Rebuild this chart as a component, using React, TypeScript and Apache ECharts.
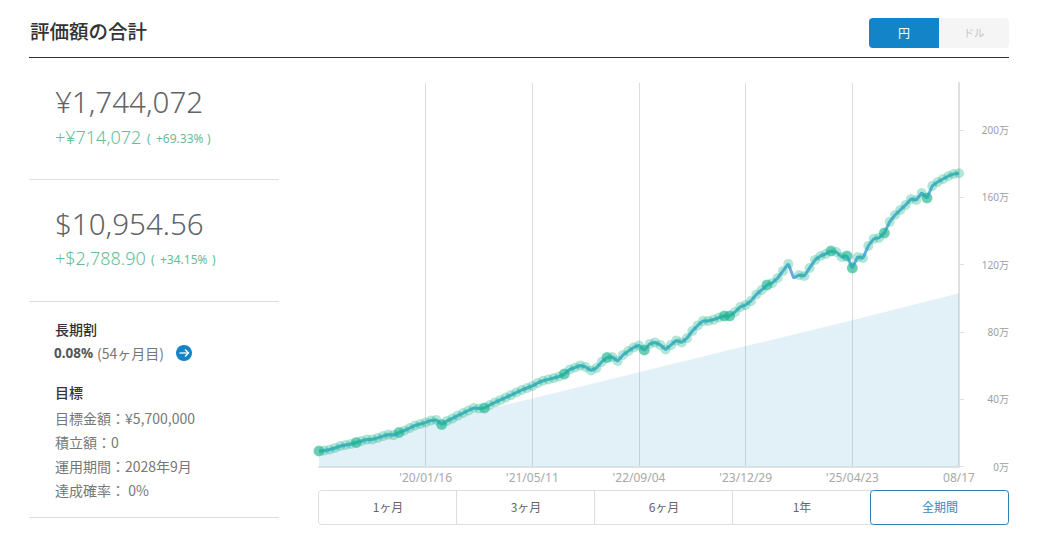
import React, { useEffect, useRef } from "react";
import * as echarts from "echarts";

// Tick labels on the date axis, one every 20 points (the first tick has no label in the picture)
const dateTicks = ["", "'20/01/16", "'21/05/11", "'22/09/04", "'23/12/29", "'25/04/23", "08/17"];
const yTicks = [0, 40, 80, 120, 160, 200];

// Valuation (unit: 万円)
const valuation = [
  9.2, 9.5, 10.1, 11.0, 12.2, 12.8, 13.4, 14.3, 15.2, 16.1,
  16.1, 17.0, 18.1, 19.0, 18.7, 20.2, 21.4, 22.9, 24.4, 25.3,
  26.2, 27.4, 27.7, 25.0, 27.1, 28.6, 30.3, 31.8, 33.3, 34.8,
  34.5, 34.8, 36.6, 38.1, 39.6, 41.0, 42.5, 44.0, 45.5, 46.7,
  47.9, 49.7, 51.0, 51.8, 52.6, 53.5, 55.0, 57.7, 58.9, 60.1,
  59.2, 57.1, 58.6, 62.2, 64.8, 65.1, 62.8, 66.3, 68.7, 70.8,
  72.0, 69.3, 72.9, 73.8, 72.3, 69.6, 72.3, 75.0, 73.8, 76.4,
  80.6, 83.9, 86.6, 86.6, 87.4, 88.6, 89.5, 89.5, 91.9, 94.9,
  96.1, 98.5, 102.3, 105.0, 108.0, 109.2, 112.1, 116.3, 120.5, 112.1,
  113.9, 113.3, 118.1, 122.8, 125.2, 126.4, 128.2, 127.6, 124.6, 125.2,
  118.1, 124.6, 124.0, 131.2, 135.4, 136.0, 138.9, 145.5, 149.6, 152.6,
  155.6, 159.1, 158.5, 162.7, 159.7, 166.9, 169.2, 171.0, 172.8, 174.0,
  174.4,
];

// Amount paid in (unit: 万円), read at each date tick; the library joins these readings
const paidInAtTicks = [9.5, 25, 40.5, 56, 71.6, 87, 103];

// Points where the line dips without a marker, and points with a strong marker
const unmarkedPoints = [89];
const strongPoints = [0, 7, 15, 23, 31, 46, 54, 61, 76, 77, 84, 96, 99, 100, 106, 114];

const rangeLabels = ["1ヶ月", "3ヶ月", "6ヶ月", "1年", "全期間"];

const FONT = '"Noto Sans", "Noto Sans CJK JP", sans-serif';
const JP = '"Noto Sans CJK JP", sans-serif';

function label(x: number, y: number, text: string, size: number, fill: string, opts: any = {}) {
  return {
    type: "text",
    x,
    y,
    silent: true,
    style: {
      text,
      fill,
      font: `${opts.weight || 400} ${size}px ${opts.family || FONT}`,
      textAlign: opts.align || "left",
      textVerticalAlign: "middle",
    },
  };
}

function hline(x1: number, x2: number, y: number, stroke: string, lineWidth = 1) {
  return { type: "line", silent: true, shape: { x1, y1: y, x2, y2: y }, style: { stroke, lineWidth } };
}

function vline(x: number, y1: number, y2: number, stroke: string) {
  return { type: "line", silent: true, shape: { x1: x, y1, x2: x, y2 }, style: { stroke, lineWidth: 1 } };
}

function buildGraphic() {
  const grey = "#5f6468";
  const green = "#67bd98";
  const body = "#777777";
  const blue = "#1484c8";
  const rangeCenters = [388, 526, 664, 802, 940];
  return [
    label(30, 30, "評価額の合計", 19.5, "#333333", { family: JP, weight: 500 }),
    hline(29, 1009, 57.5, "#333333"),

    { type: "rect", silent: true, shape: { x: 869, y: 18, width: 70, height: 30, r: [4, 0, 0, 4] }, style: { fill: blue } },
    { type: "rect", silent: true, shape: { x: 939, y: 18, width: 70, height: 30, r: [0, 4, 4, 0] }, style: { fill: "#f5f5f5" } },
    label(904, 32, "円", 12, "#ffffff", { family: JP, align: "center" }),
    label(974, 32, "ドル", 10.5, "#c4c4c4", { family: JP, align: "center" }),

    label(55, 101, "¥1,744,072", 29.5, grey, { weight: 300 }),
    label(55, 137, "+¥714,072", 18, green, { weight: 300 }),
    label(147, 138, "(", 12, green),
    label(156, 138, "+69.33%", 12, green),
    label(207, 138, ")", 12, green),
    hline(29, 279, 179.5, "#dedede"),

    label(55, 223, "$10,954.56", 29.5, grey, { weight: 300 }),
    label(55, 258, "+$2,788.90", 18, green, { weight: 300 }),
    label(151, 259, "(", 12, green),
    label(160, 259, "+34.15%", 12, green),
    label(212, 259, ")", 12, green),
    hline(29, 279, 301.5, "#dedede"),

    label(55, 328.5, "長期割", 14, "#333333", { family: JP, weight: 500 }),
    label(54, 352.5, "0.08%", 13.5, "#555555", { weight: 700 }),
    label(97, 352.5, "(54ヶ月目)", 14, body, { family: JP }),
    { type: "circle", silent: true, shape: { cx: 184, cy: 353, r: 8 }, style: { fill: blue } },
    { type: "polyline", silent: true, shape: { points: [[179.5, 353], [188.5, 353]] }, style: { stroke: "#fff", lineWidth: 1.3, fill: "none" } },
    { type: "polyline", silent: true, shape: { points: [[185, 349.5], [188.5, 353], [185, 356.5]] }, style: { stroke: "#fff", lineWidth: 1.3, fill: "none" } },

    label(55, 391.5, "目標", 14, "#333333", { family: JP, weight: 500 }),
    label(55, 417.5, "目標金額：¥5,700,000", 14, body, { family: JP }),
    label(55, 441.5, "積立額：0", 14, body, { family: JP }),
    label(55, 465.5, "運用期間：2028年9月", 14, body, { family: JP }),
    label(55, 489.5, "達成確率： 0%", 14, body, { family: JP }),
    hline(29, 279, 517.5, "#dedede"),

    { type: "rect", silent: true, shape: { x: 318.5, y: 490.5, width: 690, height: 34, r: 3 }, style: { fill: "none", stroke: "#dddddd", lineWidth: 1 } },
    vline(456.5, 490.5, 524.5, "#dddddd"),
    vline(594.5, 490.5, 524.5, "#dddddd"),
    vline(732.5, 490.5, 524.5, "#dddddd"),
    { type: "rect", silent: true, shape: { x: 870.5, y: 490.5, width: 138, height: 34, r: 3 }, style: { fill: "#fff", stroke: "#2f80b2", lineWidth: 1 } },
    ...rangeLabels.map((t, i) =>
      label(rangeCenters[i], 506.5, t, 12, i === 4 ? "#3a8abc" : "#666666", { family: JP, align: "center" })
    ),
  ];
}

export default function App() {
  const ref = useRef<HTMLDivElement>(null);
  useEffect(() => {
    const chart = echarts.init(ref.current!, undefined, { renderer: "svg" });
    const marked = valuation.map((v, i) => (unmarkedPoints.includes(i) ? "-" : v));
    const paidIn = valuation.map((_, i) => (i % 20 === 0 ? paidInAtTicks[i / 20] : null));
    chart.setOption({
      animation: false,
      textStyle: { fontFamily: FONT },
      tooltip: { show: false },
      grid: { left: 319, right: 88, top: 83, bottom: 85.5 },
      xAxis: {
        type: "category",
        boundaryGap: false,
        data: valuation.map((_, i) => (i % 20 === 0 ? dateTicks[i / 20] : "")),
        axisLine: { show: true, lineStyle: { color: "#dfe2e5", width: 2 } },
        axisTick: { show: false },
        axisLabel: { interval: 19, color: "#a8a8a8", fontSize: 12, margin: 5, hideOverlap: false, showMinLabel: true, showMaxLabel: true },
        splitLine: { show: true, interval: 19, showMinLine: false, showMaxLine: false, lineStyle: { color: "#d9dde1", width: 1 } },
      },
      yAxis: {
        type: "value",
        position: "right",
        min: 0,
        max: 228.1,
        interval: 40,
        axisLine: { show: true, lineStyle: { color: "#e0e0e0", width: 2 } },
        axisTick: { show: true, length: 5, lineStyle: { color: "#e0e0e0" }, customValues: yTicks },
        axisLabel: {
          customValues: yTicks,
          align: "right",
          margin: 50,
          color: "#a0a0a0",
          fontSize: 10,
          formatter: (v: number) => `${v}万`,
        },
        splitLine: { show: false },
      },
      series: [
        {
          name: "paidIn",
          type: "line",
          data: paidIn,
          connectNulls: true,
          symbol: "none",
          lineStyle: { width: 0 },
          areaStyle: { color: "#1484c8", opacity: 0.12 },
          z: 2,
        },
        {
          name: "valuation",
          type: "line",
          data: valuation,
          symbol: "none",
          lineStyle: { color: "#62ade6", width: 3 },
          z: 3,
        },
        {
          name: "markers",
          type: "scatter",
          data: marked,
          symbol: "circle",
          symbolSize: 10,
          itemStyle: { color: "rgba(28,180,140,0.42)" },
          z: 4,
        },
        {
          name: "strong",
          type: "scatter",
          data: strongPoints.map((i) => [i, valuation[i]]),
          symbol: "circle",
          symbolSize: 11,
          itemStyle: { color: "rgba(28,180,140,0.6)" },
          z: 5,
        },
      ],
      graphic: buildGraphic(),
    });
    return () => chart.dispose();
  }, []);
  return <div ref={ref} style={{ position: "absolute", left: 0, top: 0, width: 1047, height: 552, background: "#fff" }} />;
}
